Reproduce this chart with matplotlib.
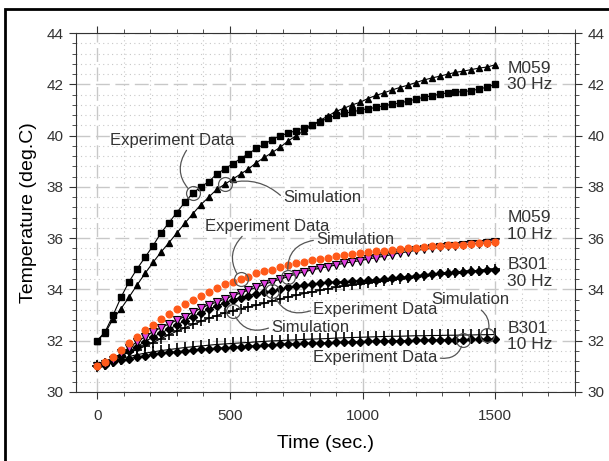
import matplotlib
matplotlib.use('Agg')
import matplotlib.pyplot as plt
from matplotlib.patches import Rectangle
from matplotlib.ticker import MultipleLocator
import numpy as np

plt.rcParams['font.family'] = ['Liberation Sans', 'DejaVu Sans']

# sample times (sec.)
time = list(range(0, 1501, 30))

# M059 30 Hz
m059_30_exp = [32.0, 32.35, 33.0, 33.7, 34.3, 34.8, 35.25, 35.7, 36.2, 36.6,
               37.0, 37.4, 37.75, 38.0, 38.2, 38.5, 38.7, 38.9, 39.1, 39.3,
               39.5, 39.67, 39.85, 40.0, 40.1, 40.2, 40.3, 40.42, 40.55, 40.68,
               40.8, 40.88, 40.92, 41.0, 41.05, 41.1, 41.17, 41.22, 41.27, 41.35,
               41.42, 41.5, 41.55, 41.62, 41.67, 41.7, 41.72, 41.76, 41.82, 41.9,
               42.0]
m059_30_sim = [32.0, 32.3, 32.85, 33.25, 33.7, 34.17, 34.62, 35.05, 35.45, 35.82,
               36.2, 36.58, 36.95, 37.3, 37.6, 37.9, 38.1, 38.3, 38.5, 38.7,
               38.95, 39.15, 39.35, 39.55, 39.8, 40.0, 40.2, 40.4, 40.6, 40.77,
               40.95, 41.07, 41.2, 41.3, 41.45, 41.57, 41.67, 41.78, 41.88, 41.97,
               42.07, 42.17, 42.25, 42.32, 42.4, 42.47, 42.52, 42.58, 42.64, 42.68,
               42.77]
# M059 10 Hz
m059_10_exp = [31.0, 31.15, 31.35, 31.62, 31.9, 32.15, 32.4, 32.6, 32.85, 33.05,
               33.25, 33.43, 33.6, 33.75, 33.9, 34.05, 34.22, 34.3, 34.4, 34.5,
               34.62, 34.7, 34.77, 34.88, 34.95, 35.03, 35.08, 35.15, 35.2, 35.24,
               35.3, 35.35, 35.38, 35.42, 35.45, 35.48, 35.5, 35.54, 35.57, 35.6,
               35.63, 35.65, 35.68, 35.7, 35.72, 35.73, 35.75, 35.77, 35.8, 35.82,
               35.85]
m059_10_sim = [31.0, 31.1, 31.25, 31.5, 31.73, 31.95, 32.15, 32.35, 32.5, 32.65,
               32.8, 32.94, 33.1, 33.26, 33.4, 33.5, 33.62, 33.74, 33.86, 33.97,
               34.08, 34.2, 34.3, 34.4, 34.5, 34.6, 34.69, 34.76, 34.83, 34.89,
               34.95, 35.02, 35.07, 35.12, 35.18, 35.24, 35.29, 35.36, 35.42, 35.47,
               35.52, 35.56, 35.6, 35.64, 35.68, 35.71, 35.74, 35.77, 35.79, 35.82,
               35.85]
# B301 30 Hz
b301_30_exp = [31.0, 31.05, 31.2, 31.4, 31.58, 31.77, 31.96, 32.14, 32.3, 32.45,
               32.6, 32.78, 32.94, 33.07, 33.22, 33.35, 33.47, 33.6, 33.68, 33.76,
               33.83, 33.88, 33.93, 34.0, 34.08, 34.13, 34.17, 34.2, 34.24, 34.27,
               34.29, 34.3, 34.32, 34.34, 34.35, 34.38, 34.4, 34.43, 34.47, 34.5,
               34.53, 34.57, 34.6, 34.62, 34.64, 34.66, 34.68, 34.7, 34.72, 34.74,
               34.76]
b301_30_sim = [31.0, 31.1, 31.25, 31.4, 31.55, 31.65, 31.78, 31.92, 32.08, 32.22,
               32.37, 32.5, 32.63, 32.75, 32.87, 32.98, 33.08, 33.17, 33.24, 33.31,
               33.38, 33.46, 33.55, 33.63, 33.7, 33.77, 33.84, 33.9, 33.96, 34.02,
               34.08, 34.13, 34.17, 34.21, 34.25, 34.28, 34.32, 34.36, 34.4, 34.44,
               34.48, 34.52, 34.55, 34.59, 34.62, 34.65, 34.68, 34.71, 34.73, 34.76,
               34.78]
# B301 10 Hz
b301_10_exp = [31.0, 31.08, 31.16, 31.23, 31.3, 31.36, 31.41, 31.46, 31.5, 31.54,
               31.57, 31.6, 31.63, 31.66, 31.68, 31.7, 31.72, 31.74, 31.76, 31.78,
               31.8, 31.82, 31.84, 31.86, 31.87, 31.88, 31.89, 31.9, 31.91, 31.92,
               31.93, 31.94, 31.95, 31.96, 31.97, 31.98, 31.98, 31.99, 32.0, 32.0,
               32.01, 32.02, 32.02, 32.03, 32.03, 32.04, 32.04, 32.05, 32.05, 32.06,
               32.06]
b301_10_sim = [31.0, 31.1, 31.2, 31.3, 31.38, 31.45, 31.51, 31.56, 31.61, 31.65,
               31.69, 31.73, 31.76, 31.79, 31.82, 31.85, 31.87, 31.89, 31.91, 31.93,
               31.95, 31.97, 31.99, 32.0, 32.02, 32.03, 32.05, 32.06, 32.07, 32.08,
               32.1, 32.11, 32.12, 32.13, 32.14, 32.15, 32.16, 32.17, 32.17, 32.18,
               32.19, 32.19, 32.2, 32.2, 32.21, 32.21, 32.22, 32.22, 32.23, 32.23,
               32.24]

fig = plt.figure(figsize=(6.09, 4.61), dpi=100)
ax = fig.add_axes([0.1248, 0.150, 0.8192, 0.778])

lw = 0.8
ax.plot(time, m059_30_sim, color='k', lw=lw, marker='^', ms=5)
ax.plot(time, m059_30_exp, color='k', lw=lw, marker='s', ms=4.5)
ax.plot(time, b301_10_sim, color='k', lw=lw, marker='|', ms=9, mew=1.2)
ax.plot(time, b301_10_exp, color='k', lw=lw, marker='D', ms=4.5)
ax.plot(time, b301_30_sim, color='k', lw=lw, marker='+', ms=7, mew=1.2)
ax.plot(time, b301_30_exp, color='k', lw=lw, marker='D', ms=4.5)
ax.plot(time, m059_10_sim, color='k', lw=lw, marker='v', ms=5.5,
        mfc='#e040e0', mec='k', mew=0.8)
ax.plot(time, m059_10_exp, ls='none', marker='o', ms=4.8,
        mfc='#ff5a1a', mec='#ff5a1a')

ax.set_xlim(-80, 1800)
ax.set_ylim(30, 44)
ax.xaxis.set_major_locator(MultipleLocator(500))
ax.xaxis.set_minor_locator(MultipleLocator(100))
ax.yaxis.set_major_locator(MultipleLocator(2))
ax.yaxis.set_minor_locator(MultipleLocator(0.4))
ax.grid(which='major', color='#c8c8c8', lw=1, ls=(0, (10, 4)))
ax.grid(which='minor', color='#c8c8c8', lw=0.8, ls=(0, (1, 3)))
ax.set_axisbelow(True)
ax.tick_params(which='both', direction='out', top=True, right=True,
               labelright=True, colors='#333333', labelsize=11)
ax.tick_params(which='major', length=5, pad=4)
ax.tick_params(which='minor', length=3)
ax.tick_params(axis='x', which='major', pad=7)
for s in ax.spines.values():
    s.set_color('#333333')

ax.set_xlabel('Time (sec.)', fontsize=14, labelpad=9)
ax.set_ylabel('Temperature (deg.C)', fontsize=14, labelpad=7)

# circled points with curved call-outs
notes = [
    ('Experiment Data', time, m059_30_exp, 12, (283, 39.83), (0.63, 0), 0.45),
    ('Simulation', time, m059_30_sim, 16, (848, 37.57), (0, 0.5), 0.3),
    ('Experiment Data', time, m059_10_exp, 18, (641, 36.47), (0.32, 0), 0.45),
    ('Simulation', time, m059_10_sim, 24, (972, 35.93), (0, 0.5), 0.5),
    ('Experiment Data', time, b301_30_exp, 22, (1048, 33.2), (0, 0.5), -0.5),
    ('Simulation', time, b301_30_sim, 17, (803, 32.53), (0, 0.5), -0.5),
    ('Simulation', time, b301_10_sim, 49, (1406, 33.59), (0.59, 0), -0.4),
    ('Experiment Data', time, b301_10_exp, 46, (1048, 31.33), (1, 0.5), 0.5),
]
for label, xs, ys, i, pos, rel, rad in notes:
    ax.plot(xs[i], ys[i], marker='o', ms=10, mfc='none', mec='#555555', mew=0.9)
    ax.annotate(label, xy=(xs[i], ys[i]), xytext=pos, ha='center', va='center',
                fontsize=12, color='#333333',
                arrowprops=dict(arrowstyle='-', color='#555555', lw=0.9,
                                relpos=rel, shrinkA=0, shrinkB=5,
                                connectionstyle='arc3,rad=%s' % rad))

for txt, y in [('M059\n30 Hz', 42.32), ('M059\n10 Hz', 36.47),
               ('B301\n30 Hz', 34.64), ('B301\n10 Hz', 32.15)]:
    ax.text(1545, y, txt, ha='left', va='center', fontsize=12.5,
            color='#333333', linespacing=1.1)

fig.patches.append(Rectangle((5 / 609, -0.1), 1.2, 1 - 9 / 461 + 0.1,
                             transform=fig.transFigure, fill=False,
                             ec='black', lw=2))

fig.savefig('out.png', dpi=100)
